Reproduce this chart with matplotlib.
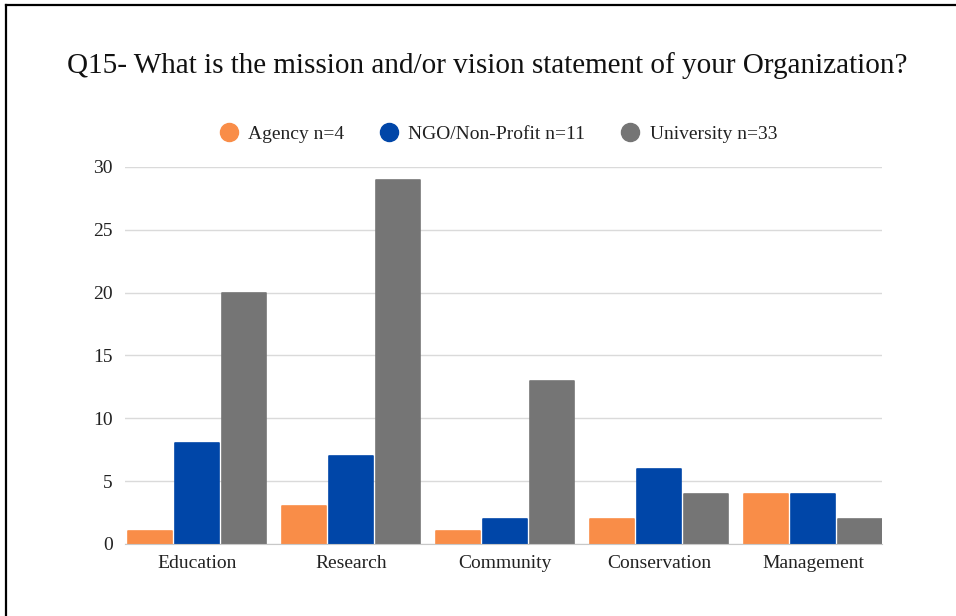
import numpy as np
from matplotlib import pyplot as plt
from matplotlib.lines import Line2D

# Survey counts per organization type
categories = ["Education", "Research", "Community", "Conservation", "Management"]
agency = [1, 3, 1, 2, 4]
ngo = [8, 7, 2, 6, 4]
university = [20, 29, 13, 4, 2]
series_labels = ["Agency n=4", "NGO/Non-Profit n=11", "University n=33"]
yticks = [0, 5, 10, 15, 20, 25, 30]

colorlist = ["#F98D48",  # orange
             "#0046A8",  # blue
             "#757575"]  # gray

plt.rcParams['font.family'] = ['Liberation Serif', 'DejaVu Serif']

fig = plt.figure(figsize=(9.56, 6.16), dpi=100)
ax = fig.add_axes([0.1308, 0.1169, 0.7918, 0.612])

x = np.arange(len(categories))
width = 0.284
step = 0.305
for k, (vals, col) in enumerate(zip([agency, ngo, university], colorlist)):
    ax.bar(x + (k - 1)*step, vals, width=width, color=col,
           edgecolor=col, linewidth=1.2, joinstyle='round', zorder=3)

ax.set_xlim(-0.468, 4.448)
ax.set_ylim(0, 30)
ax.set_yticks(yticks)
ax.set_xticks(x)
ax.set_xticklabels(categories)
ax.tick_params(axis='both', length=0, labelsize=14, colors="#222222")
ax.tick_params(axis='y', pad=9)
ax.tick_params(axis='x', pad=8)
ax.grid(axis='y', color="#DADADA", linewidth=1.0, zorder=0)
for s in ["top", "right", "left"]:
    ax.spines[s].set_visible(False)
ax.spines["bottom"].set_color("#C8C8C8")
ax.spines["bottom"].set_zorder(4)

fig.text(0.51, 0.894, "Q15- What is the mission and/or vision statement of your Organization?",
         ha='center', va='center', fontsize=21, color="#111111")

handles = [Line2D([], [], marker='o', linestyle='none', markersize=13,
                  markerfacecolor=c, markeredgecolor=c) for c in colorlist]
fig.legend(handles, series_labels, loc='center', bbox_to_anchor=(0.521, 0.782),
           ncol=3, frameon=False, fontsize=14, handlelength=1.0,
           handletextpad=0.5, columnspacing=1.8, labelcolor="#222222")

# Frame along the top and left edges
fig.add_artist(Line2D([0.0063, 1.0], [0.992, 0.992], color='black', linewidth=1.6))
fig.add_artist(Line2D([0.0063, 0.0063], [0.0, 0.992], color='black', linewidth=1.6))

fig.savefig("out.png", dpi=100)
